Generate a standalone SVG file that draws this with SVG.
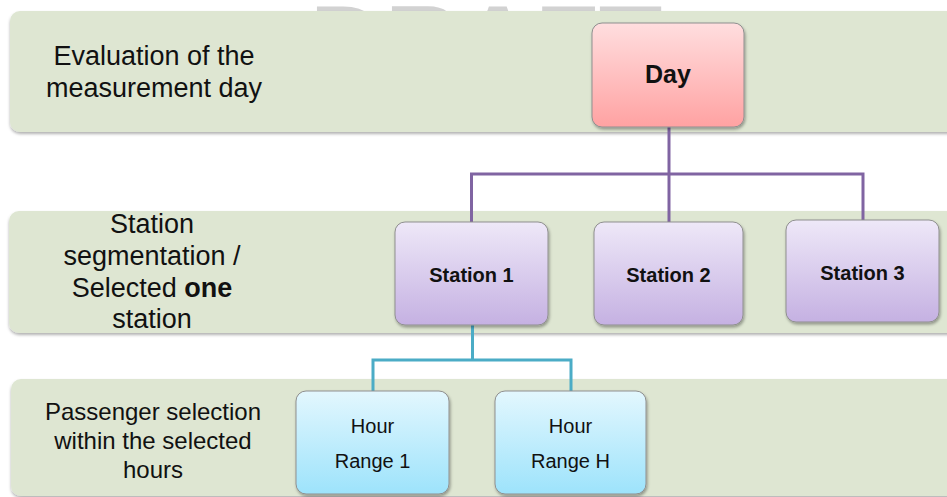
<svg xmlns="http://www.w3.org/2000/svg" width="947" height="497" viewBox="0 0 947 497">
  <style>
    .band { fill: #dee6d2; filter: url(#bandShadow); }
    .box { stroke: #8f8f8f; stroke-width: 1; filter: url(#boxShadow); }
    .lbl { font-family: "Liberation Sans", Arial, sans-serif; fill: #111; text-anchor: middle; }
    .side1 { font-size: 27px; }
    .side3 { font-size: 24px; }
    .nodeB { font-weight: bold; font-size: 20px; }
    .nodeR { font-size: 20px; }
    .purple { stroke: #8064a2; stroke-width: 3; fill: none; }
    .aqua { stroke: #4bacc6; stroke-width: 3; fill: none; }
    .wm { font-family: "Liberation Sans", Arial, sans-serif; font-weight: bold; font-size: 104px; fill: #d2d2d2; }
  </style>
  <defs>
    <filter id="bandShadow" x="-5%" y="-10%" width="110%" height="125%">
      <feDropShadow dx="0" dy="2" stdDeviation="1.5" flood-color="#000" flood-opacity="0.3"/>
    </filter>
    <filter id="boxShadow" x="-10%" y="-10%" width="125%" height="130%">
      <feDropShadow dx="1" dy="2" stdDeviation="1.5" flood-color="#000" flood-opacity="0.35"/>
    </filter>
    <linearGradient id="gDay" x1="0" y1="0" x2="0" y2="1">
      <stop offset="0" stop-color="#ffdedf"/>
      <stop offset="1" stop-color="#ffa2a2"/>
    </linearGradient>
    <linearGradient id="gStation" x1="0" y1="0" x2="0" y2="1">
      <stop offset="0" stop-color="#eee8f8"/>
      <stop offset="1" stop-color="#c5b1e2"/>
    </linearGradient>
    <linearGradient id="gHour" x1="0" y1="0" x2="0" y2="1">
      <stop offset="0" stop-color="#e3f7fe"/>
      <stop offset="1" stop-color="#9de3fb"/>
    </linearGradient>
  </defs>

  <rect width="947" height="497" fill="#ffffff"/>

  <text class="wm" x="310" y="78">DRAFT</text>

  <g id="band-day">
    <rect class="band" x="10" y="11" width="960" height="121" rx="10"/>
    <text class="lbl side1" x="154" y="65">Evaluation of the</text>
    <text class="lbl side1" x="154" y="97">measurement day</text>
  </g>
  <g id="band-station">
    <rect class="band" x="9" y="211" width="960" height="122" rx="10"/>
    <text class="lbl side1" x="152" y="233">Station</text>
    <text class="lbl side1" x="152" y="265">segmentation /</text>
    <text class="lbl side1" x="152" y="297">Selected <tspan font-weight="bold">one</tspan></text>
    <text class="lbl side1" x="152" y="328">station</text>
  </g>
  <g id="band-hours">
    <rect class="band" x="11" y="379" width="960" height="117" rx="10"/>
    <text class="lbl side3" x="153" y="420">Passenger selection</text>
    <text class="lbl side3" x="153" y="449">within the selected</text>
    <text class="lbl side3" x="153" y="478">hours</text>
  </g>

  <g id="connectors">
    <path class="purple" d="M669 127 V222"/>
    <path class="purple" d="M471.5 222 V174 H863 V220"/>
    <path class="aqua" d="M472.5 325 V360"/>
    <path class="aqua" d="M373 391 V360 H571 V391"/>
  </g>

  <g id="node-day">
    <rect class="box" x="592" y="23" width="152" height="104" rx="10" fill="url(#gDay)"/>
    <text class="lbl" x="668" y="83" font-weight="bold" font-size="25">Day</text>
  </g>
  <g id="node-station1">
    <rect class="box" x="395" y="222" width="153" height="103" rx="10" fill="url(#gStation)"/>
    <text class="lbl nodeB" x="471.5" y="282">Station 1</text>
  </g>
  <g id="node-station2">
    <rect class="box" x="594" y="222" width="149" height="103" rx="10" fill="url(#gStation)"/>
    <text class="lbl nodeB" x="668.5" y="282">Station 2</text>
  </g>
  <g id="node-station3">
    <rect class="box" x="786" y="220" width="153" height="102" rx="10" fill="url(#gStation)"/>
    <text class="lbl nodeB" x="862.5" y="280">Station 3</text>
  </g>
  <g id="node-hour1">
    <rect class="box" x="296" y="391" width="153" height="103" rx="10" fill="url(#gHour)"/>
    <text class="lbl nodeR" x="372.5" y="433">Hour</text>
    <text class="lbl nodeR" x="372.5" y="468">Range 1</text>
  </g>
  <g id="node-hourH">
    <rect class="box" x="495" y="391" width="151" height="103" rx="10" fill="url(#gHour)"/>
    <text class="lbl nodeR" x="570.5" y="433">Hour</text>
    <text class="lbl nodeR" x="570.5" y="468">Range H</text>
  </g>
</svg>
